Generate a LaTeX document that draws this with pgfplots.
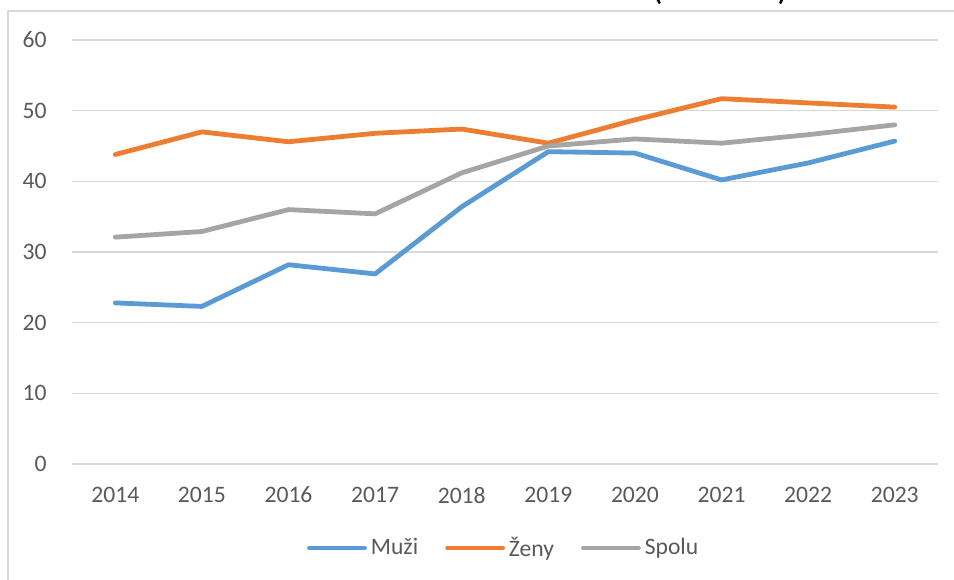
\documentclass[border=0pt]{standalone}
\usepackage{pgfplots}
\pgfplotsset{compat=1.18}
\usepackage{fontspec}
\setmainfont{Carlito}
\definecolor{cblue}{HTML}{5B9BD5}
\definecolor{corange}{HTML}{ED7D31}
\definecolor{cgray}{HTML}{A5A5A5}
\definecolor{ctext}{HTML}{595959}
\definecolor{cgrid}{HTML}{D9D9D9}
\begin{document}
\begin{tikzpicture}[x=1bp,y=1bp]
\useasboundingbox (0,0) rectangle (477,289.5);
\draw[cgrid, line width=0.9bp] (4,-5) -- (4,284) -- (490,284);
\node[anchor=base, inner sep=0pt, font=\fontsize{18.7bp}{22bp}\selectfont, text=black] at (328.5,289.6) {(};
\node[anchor=base, inner sep=0pt, font=\fontsize{18.7bp}{22bp}\selectfont, text=black] at (391.5,289.6) {)};
\begin{axis}[
  at={(36bp,57.5bp)}, anchor=south west,
  scale only axis, width=433bp, height=212bp,
  xmin=-0.5, xmax=9.5, ymin=0, ymax=60,
  xtick={0,...,9},
  xticklabels={2014,2015,2016,2017,2018,2019,2020,2021,2022,2023},
  ytick={0,10,...,60},
  ymajorgrids, major grid style={cgrid, line width=0.75bp},
  axis line style={draw=none},
  major tick length=0pt,
  tick label style={font=\fontsize{11.8bp}{14bp}\selectfont, text=ctext},
  /pgf/number format/assume math mode=true,
  yticklabel style={inner sep=0pt, anchor=east, xshift=-12.5bp},
  xticklabel style={inner sep=0pt, anchor=north, yshift=-11.3bp},
  legend style={at={(0.271,-0.198)}, anchor=west, draw=none, fill=none,
    legend columns=3, font=\fontsize{11.8bp}{14bp}\selectfont, text=ctext,
    inner sep=0pt, /tikz/every even column/.append style={column sep=11.5bp}},
  legend image code/.code={\draw[#1, line width=2.4bp, line cap=round] (0bp,0bp) -- (27.5bp,0bp);},
  every axis plot/.append style={line width=2.4bp, line cap=round, line join=round},
]
\addplot[cblue] coordinates {(0,22.8) (1,22.3) (2,28.2) (3,26.9) (4,36.4) (5,44.2) (6,44.0) (7,40.2) (8,42.6) (9,45.7)};
\addlegendentry{Muži}
\addplot[corange] coordinates {(0,43.8) (1,47.0) (2,45.6) (3,46.8) (4,47.4) (5,45.4) (6,48.7) (7,51.7) (8,51.1) (9,50.5)};
\addlegendentry{Ženy}
\addplot[cgray] coordinates {(0,32.1) (1,32.9) (2,36.0) (3,35.4) (4,41.2) (5,45.0) (6,46.0) (7,45.4) (8,46.6) (9,48.0)};
\addlegendentry{Spolu}
\end{axis}
\end{tikzpicture}
\end{document}
